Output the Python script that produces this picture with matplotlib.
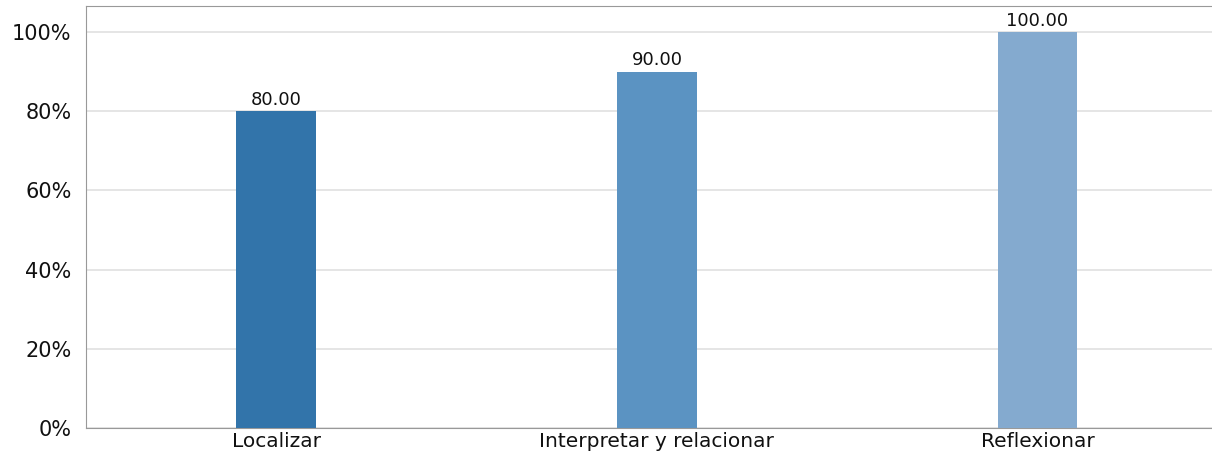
import numpy as np
import matplotlib.pyplot as plt
from matplotlib.ticker import PercentFormatter

categories = ["Localizar", "Interpretar y relacionar", "Reflexionar"]
values = [80.0, 90.0, 100.0]
colors = ["#3274aa", "#5b93c2", "#84aacf"]

fig = plt.figure(figsize=(12.12, 4.62), dpi=100)
ax = fig.add_axes([0.071, 0.074, 0.942, 0.913])

x = np.arange(len(categories))
bars = ax.bar(x, values, width=0.21, color=colors, zorder=3)
for b, v in zip(bars, values):
    ax.text(b.get_x() + b.get_width() / 2, v + 0.6, f"{v:.2f}",
            ha="center", va="bottom", fontsize=13, color="#111111")

ax.set_xlim(-0.5, 2.5)
ax.set_ylim(0, 106.6)
ax.set_yticks(np.arange(0, 101, 20))
ax.yaxis.set_major_formatter(PercentFormatter(decimals=0))
ax.set_xticks(x)
ax.set_xticklabels(categories)
ax.tick_params(length=0, colors="#111111")
ax.tick_params(axis="y", pad=10.5, labelsize=15)
ax.tick_params(axis="x", pad=3, labelsize=14.5)
ax.grid(axis="y", color="#e0e0e0", linewidth=1.2, zorder=0)
for s in ax.spines.values():
    s.set_color("#999999")
ax.spines["right"].set_visible(False)

fig.savefig("out.png", dpi=100)
